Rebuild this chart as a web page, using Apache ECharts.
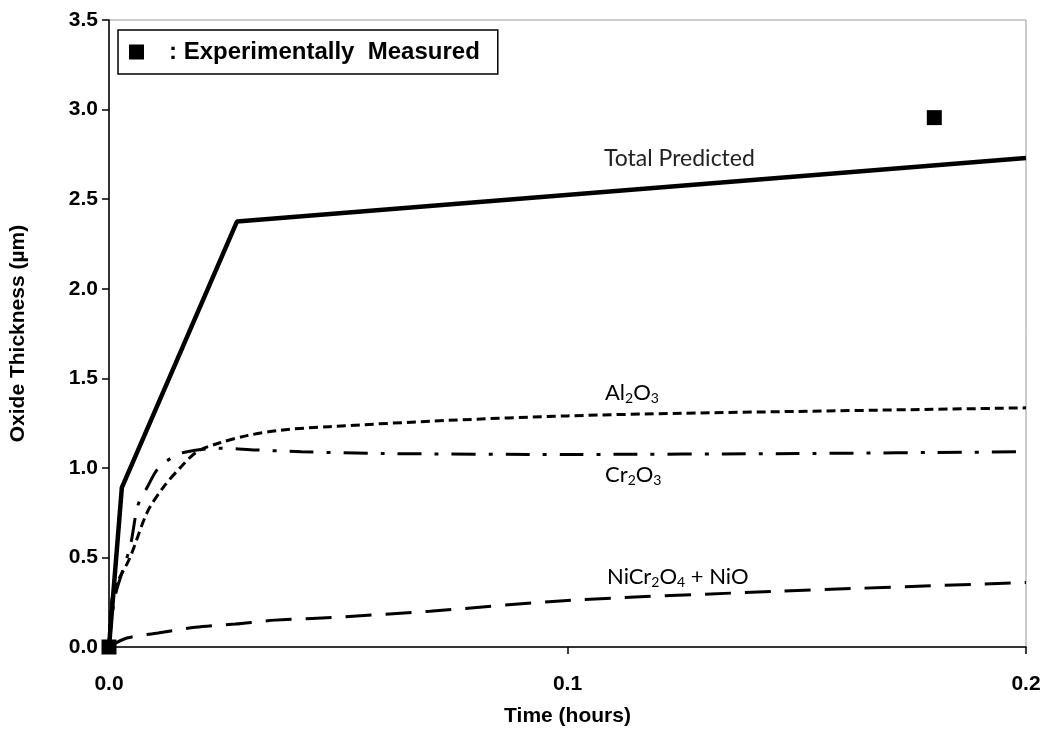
<!DOCTYPE html>
<html>
<head>
<meta charset="utf-8">
<script src="https://cdn.jsdelivr.net/npm/echarts@6/dist/echarts.min.js"></script>
<style>html,body{margin:0;padding:0;background:#fff}#c{width:1046px;height:747px}</style>
</head>
<body>
<div id="c"></div>
<script>
const totalX = [0, 0.0028, 0.0279, 0.2];
const totalY = [0, 0.89, 2.375, 2.73];

const al2o3X = [0, 0.0009, 0.0046, 0.0083, 0.0118, 0.0155, 0.0192, 0.0242, 0.0301, 0.0373, 0.048, 0.074, 0.1, 0.125, 0.15, 0.175, 0.2];
const al2o3Y = [0, 0.30, 0.50, 0.75, 0.89, 1.00, 1.09, 1.14, 1.18, 1.21, 1.23, 1.265, 1.29, 1.305, 1.315, 1.325, 1.335];

const cr2o3X = [0, 0.0013, 0.0046, 0.0063, 0.0083, 0.0105, 0.0127, 0.0155, 0.0192, 0.0240, 0.0320, 0.0420, 0.060, 0.1, 0.15, 0.2];
const cr2o3Y = [0, 0.28, 0.56, 0.79, 0.89, 0.99, 1.04, 1.08, 1.10, 1.11, 1.10, 1.09, 1.08, 1.075, 1.08, 1.09];

const nioX = [0, 0.0039, 0.0107, 0.0188, 0.0275, 0.0362, 0.0454, 0.07, 0.1, 0.145, 0.2];
const nioY = [0, 0.05, 0.078, 0.11, 0.128, 0.15, 0.16, 0.20, 0.26, 0.31, 0.36];

const expX = [0, 0.18];
const expY = [0, 2.955];

const xTicks = [0, 0.1, 0.2];
const yTicks = [0, 0.5, 1.0, 1.5, 2.0, 2.5, 3.0, 3.5];

const zip = (xs, ys) => xs.map((x, i) => [x, ys[i]]);

const chart = echarts.init(document.getElementById('c'), null, {renderer: 'canvas'});
const axisFont = {fontFamily: 'Liberation Sans, Arial', fontWeight: 'bold', fontSize: 21, color: '#000'};
const nameFont = {fontFamily: 'Liberation Sans, Arial', fontWeight: 'bold', fontSize: 21, color: '#000'};
const annFont = 'Lato, Calibri, sans-serif';
const rich = {
  n: {fontFamily: annFont, fontSize: 22, color: '#222', lineHeight: 26},
  s: {fontFamily: annFont, fontSize: 14, color: '#222', lineHeight: 26, padding: [11, 0, 0, 0]}
};

chart.setOption({
  animation: false,
  backgroundColor: '#fff',
  grid: {left: 109, right: 20, top: 20, bottom: 100, show: true, borderColor: '#999', borderWidth: 1},
  xAxis: {
    type: 'value', min: xTicks[0], max: xTicks[xTicks.length - 1], interval: 0.1,
    name: 'Time (hours)', nameLocation: 'middle', nameGap: 59,
    nameTextStyle: nameFont,
    axisLine: {show: true, lineStyle: {color: '#000', width: 1.5}},
    axisTick: {show: true, inside: false, length: 7, lineStyle: {color: '#000', width: 1.5}},
    axisLabel: Object.assign({margin: 27, formatter: v => v.toFixed(1)}, axisFont),
    splitLine: {show: false}
  },
  yAxis: {
    type: 'value', min: yTicks[0], max: yTicks[yTicks.length - 1], interval: 0.5,
    name: 'Oxide Thickness (µm)', nameLocation: 'middle', nameGap: 80, nameRotate: 90,
    nameTextStyle: nameFont,
    axisLine: {show: true, lineStyle: {color: '#000', width: 1.5}},
    axisTick: {show: true, inside: false, length: 7, lineStyle: {color: '#000', width: 1.5}},
    axisLabel: Object.assign({margin: 11, formatter: v => v.toFixed(1)}, axisFont),
    splitLine: {show: false}
  },
  legend: {
    show: true, left: 118, top: 30, data: ['Experimentally Measured'],
    icon: 'rect', itemWidth: 15, itemHeight: 15, itemGap: 10,
    borderColor: '#000', borderWidth: 1.5, padding: [10, 18, 10, 11],
    formatter: '   : Experimentally  Measured',
    textStyle: {fontFamily: 'Liberation Sans, Arial', fontWeight: 'bold', fontSize: 24, color: '#000'},
    selectedMode: false
  },
  series: [
    {name: 'Total Predicted', type: 'line', data: zip(totalX, totalY), showSymbol: false, symbol: 'none',
      lineStyle: {color: '#000', width: 4.5}, z: 5},
    {name: 'Al2O3', type: 'line', data: zip(al2o3X, al2o3Y), smooth: 0.3, showSymbol: false, symbol: 'none',
      lineStyle: {color: '#000', width: 3, type: [9, 5]}},
    {name: 'Cr2O3', type: 'line', data: zip(cr2o3X, cr2o3Y), smooth: 0.3, showSymbol: false, symbol: 'none',
      lineStyle: {color: '#000', width: 3, type: [24, 13, 4, 13]}},
    {name: 'NiCr2O4 + NiO', type: 'line', data: zip(nioX, nioY), smooth: 0.3, showSymbol: false, symbol: 'none',
      lineStyle: {color: '#000', width: 3, type: [26, 14]}},
    {name: 'Experimentally Measured', type: 'scatter', data: zip(expX, expY), symbol: 'rect', symbolSize: 15,
      itemStyle: {color: '#000', opacity: 1}, clip: false, z: 10}
  ],
  graphic: [
    {type: 'text', left: 604, top: 147, style: {text: 'Total Predicted', font: '23px ' + annFont, fill: '#222'}},
    {type: 'text', left: 605, top: 380, style: {text: '{n|Al}{s|2}{n|O}{s|3}', rich: rich}},
    {type: 'text', left: 605, top: 462, style: {text: '{n|Cr}{s|2}{n|O}{s|3}', rich: rich}},
    {type: 'text', left: 607, top: 564, style: {text: '{n|NiCr}{s|2}{n|O}{s|4}{n| + NiO}', rich: rich}}
  ]
});
</script>
</body>
</html>
